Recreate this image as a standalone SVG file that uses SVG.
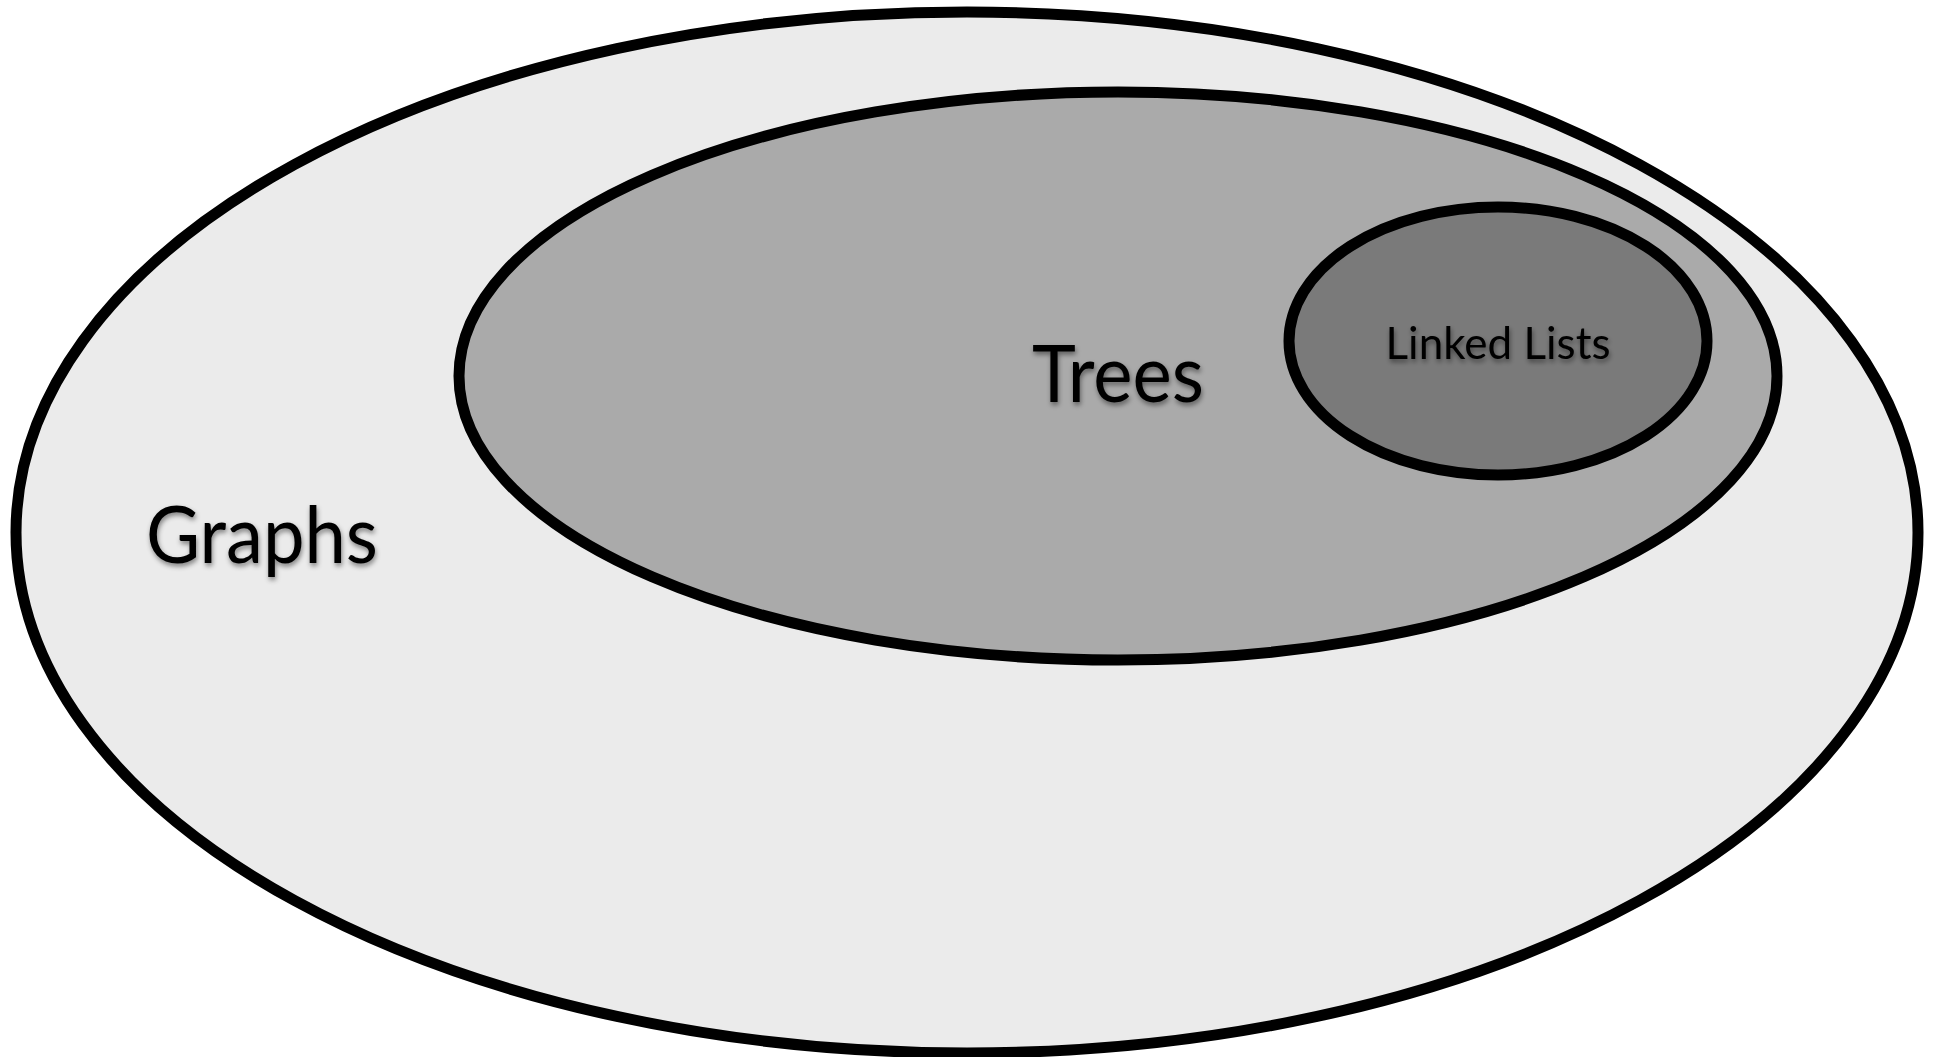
<svg xmlns="http://www.w3.org/2000/svg" width="1942" height="1057" viewBox="0 0 1942 1057">
<style>
.set{stroke:#000;stroke-width:11}
.lbl{font-family:Lato,"Open Sans","Liberation Sans",sans-serif;fill:#000;text-anchor:middle;filter:url(#sh)}
</style>
<defs>
<filter id="sh" x="-20%" y="-30%" width="140%" height="160%">
<feDropShadow dx="1" dy="3" stdDeviation="2.5" flood-color="#000" flood-opacity="0.45"/>
</filter>
</defs>
<rect width="1942" height="1057" fill="#fff"/>
<g id="graphs">
<ellipse class="set" cx="967" cy="532.5" rx="951" ry="520.5" fill="#ebebeb"/>
<text class="lbl" x="262" y="563" font-size="80" textLength="232" lengthAdjust="spacingAndGlyphs">Graphs</text>
</g>
<g id="trees">
<ellipse class="set" cx="1118" cy="376" rx="659" ry="284" fill="#aaaaaa"/>
<text class="lbl" x="1118" y="402" font-size="80" textLength="172" lengthAdjust="spacingAndGlyphs">Trees</text>
</g>
<g id="linked-lists">
<ellipse class="set" cx="1498" cy="341" rx="209" ry="134" fill="#7a7a7a"/>
<text class="lbl" x="1498" y="359" font-size="44">Linked Lists</text>
</g>
<g id="connectors"></g>
</svg>
